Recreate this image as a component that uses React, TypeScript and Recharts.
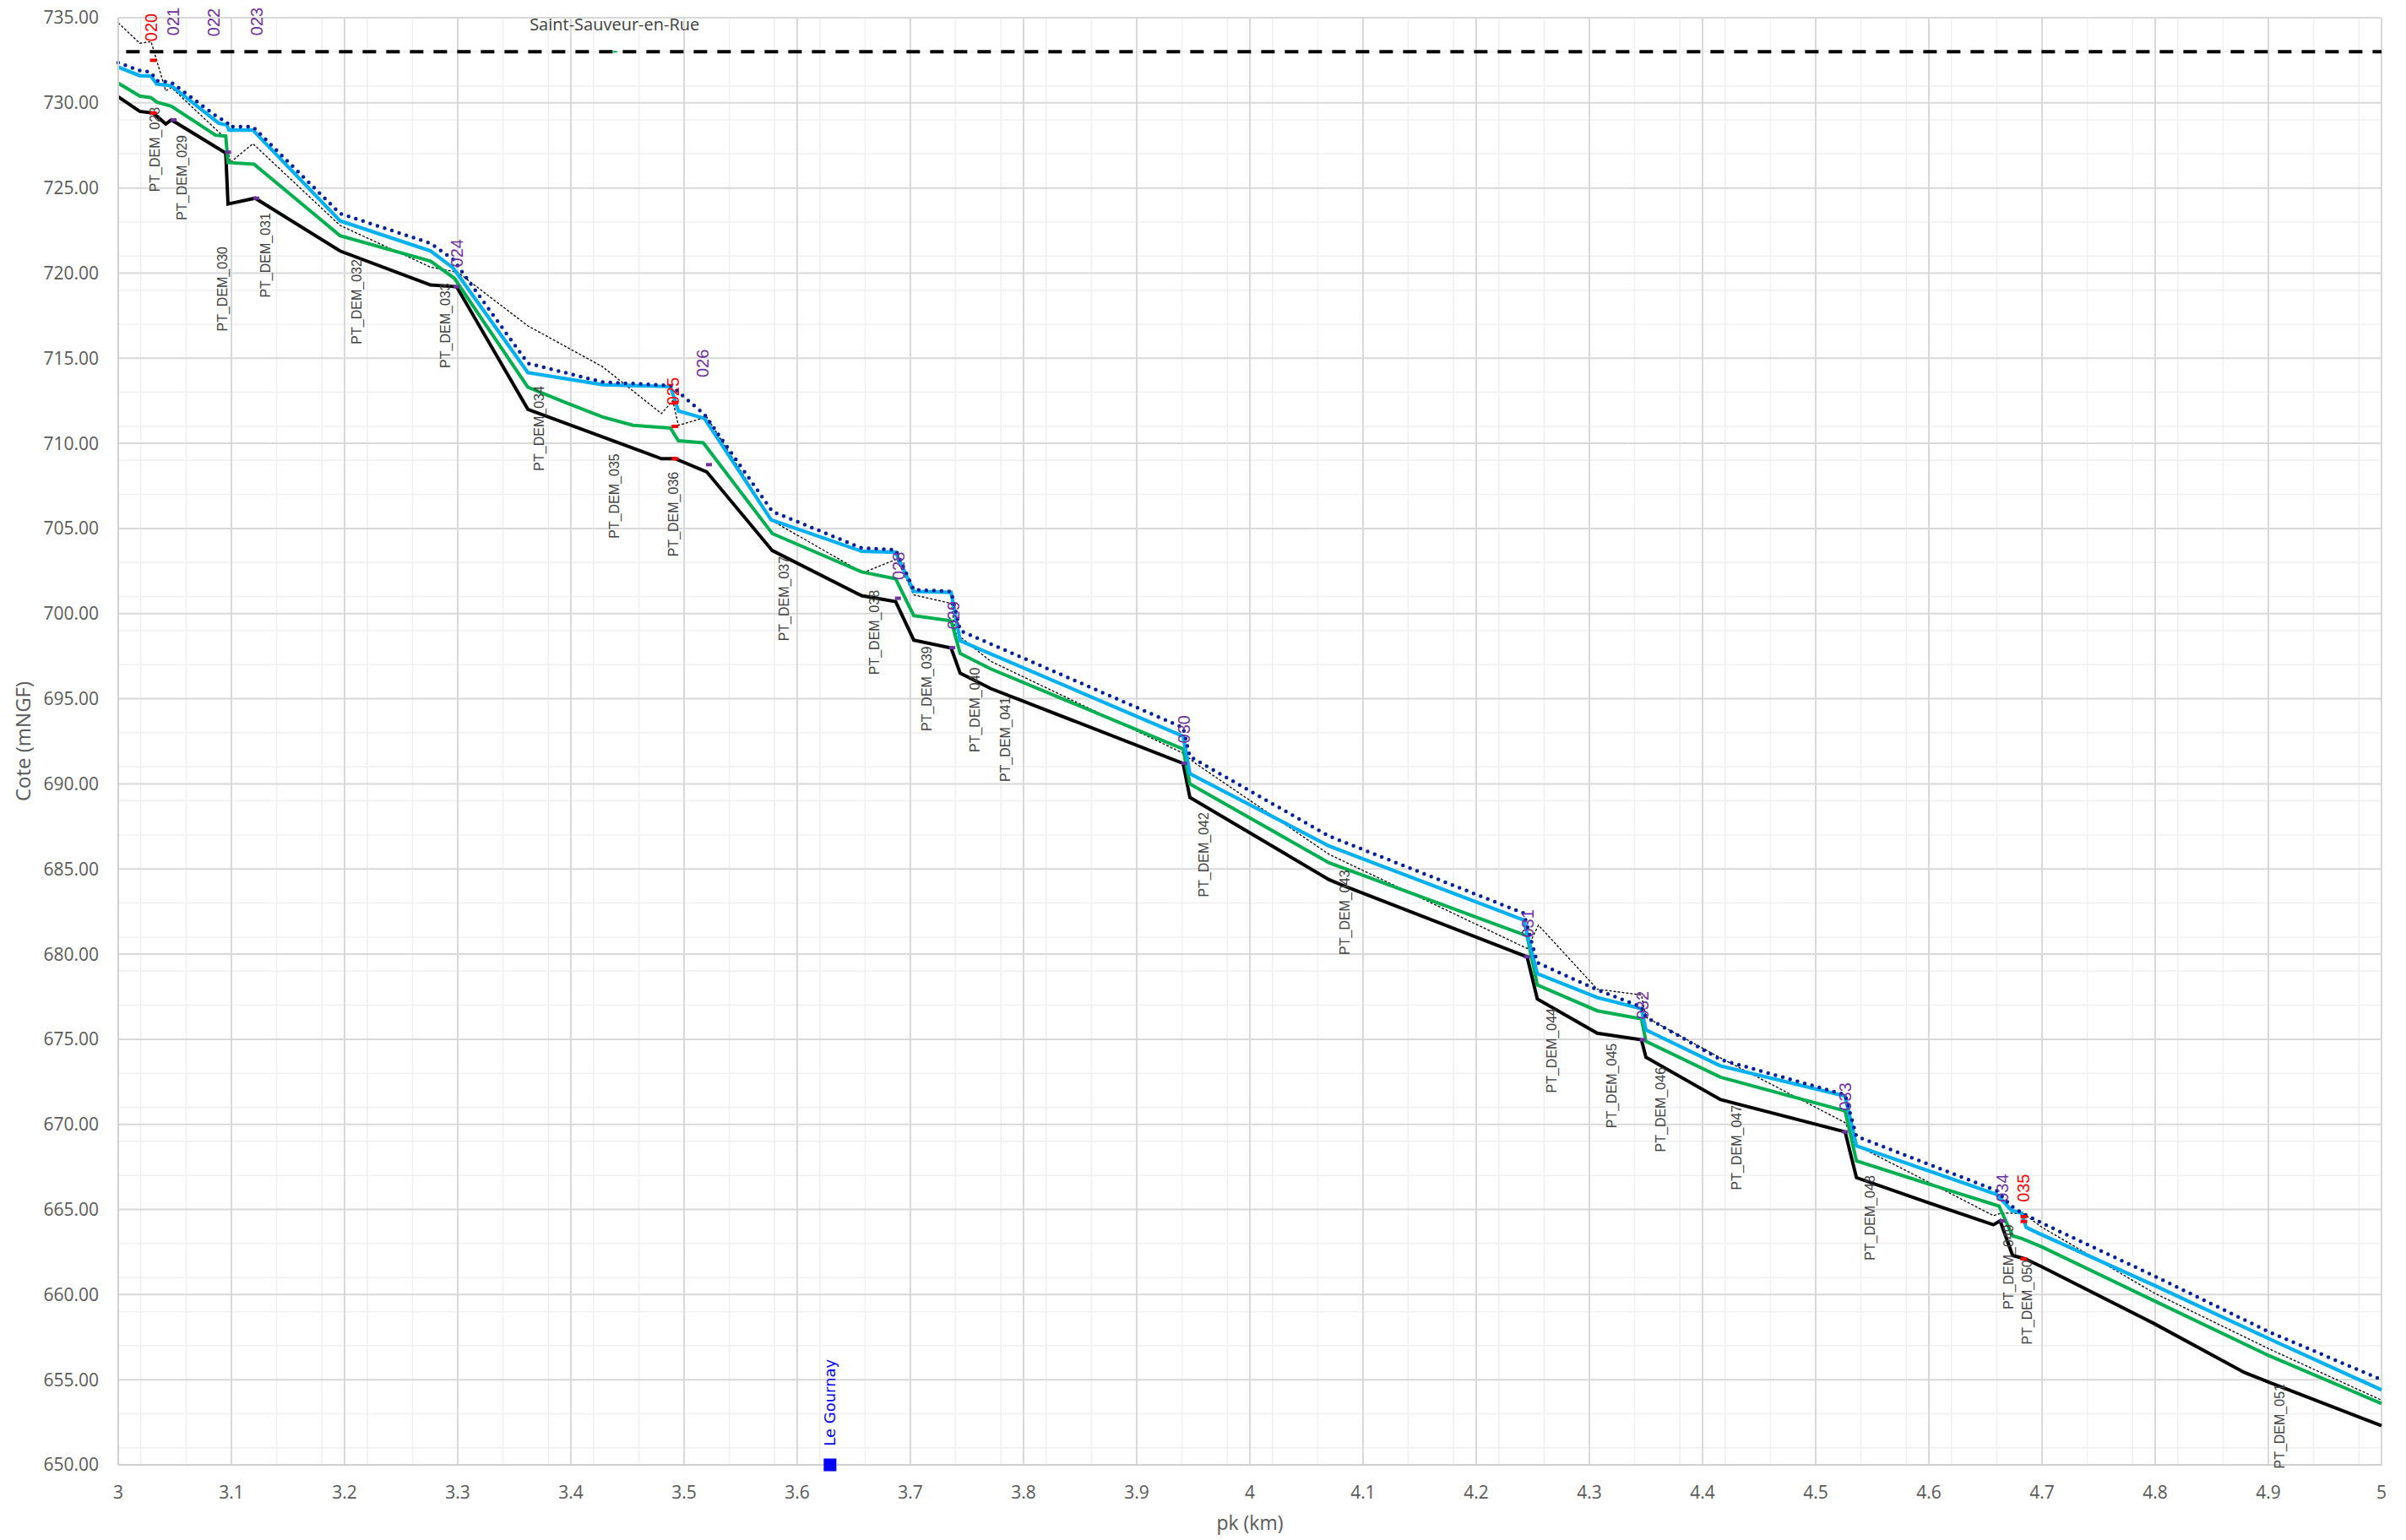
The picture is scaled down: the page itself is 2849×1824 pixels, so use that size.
import { ComposedChart, Line, Scatter, XAxis, YAxis, CartesianGrid, Label } from "recharts"

const W = 2849
const H = 1824

// axes
const pkTicks = [3, 3.1, 3.2, 3.3, 3.4, 3.5, 3.6, 3.7, 3.8, 3.9, 4, 4.1, 4.2, 4.3, 4.4, 4.5, 4.6, 4.7, 4.8, 4.9, 5]
const coteTicks = [650, 655, 660, 665, 670, 675, 680, 685, 690, 695, 700, 705, 710, 715, 720, 725, 730, 735]
const minorPk = Array.from({ length: 101 }, (_, i) => +(3 + i * 0.02).toFixed(2))
const minorCote = Array.from({ length: 86 }, (_, i) => 650 + i)

// profils [pk, cote]
const fond: [number, number][] = [
  [3.0, 730.36], [3.019, 729.5], [3.031, 729.4], [3.042, 728.76], [3.047, 729.0], [3.095, 727.05],
  [3.097, 724.06], [3.121, 724.4], [3.196, 721.3], [3.276, 719.3], [3.299, 719.2], [3.362, 712.0],
  [3.48, 709.1], [3.492, 709.1], [3.52, 708.33], [3.578, 703.7], [3.657, 701.05], [3.687, 700.7],
  [3.703, 698.44], [3.736, 697.98], [3.744, 696.5], [3.771, 695.6], [3.941, 691.2], [3.947, 689.2],
  [4.07, 684.37], [4.082, 684.04], [4.245, 679.84], [4.254, 677.36], [4.307, 675.35], [4.346, 674.97],
  [4.35, 673.94], [4.416, 671.45], [4.526, 669.56], [4.536, 666.87], [4.595, 665.5], [4.657, 664.1],
  [4.663, 664.33], [4.674, 662.3], [4.685, 662.1], [4.7, 661.63], [4.799, 658.3], [4.879, 655.42],
  [4.901, 654.84], [5.0, 652.3],
]

const ligneVerte: [number, number][] = [
  [3.0, 731.16], [3.019, 730.4], [3.029, 730.3], [3.034, 730.05], [3.047, 729.8], [3.086, 728.1],
  [3.095, 728.05], [3.097, 726.5], [3.12, 726.4], [3.196, 722.2], [3.276, 720.7], [3.297, 719.7],
  [3.362, 713.3], [3.395, 712.4], [3.428, 711.55], [3.455, 711.06], [3.488, 710.9], [3.495, 710.15],
  [3.517, 710.03], [3.578, 704.7], [3.657, 702.45], [3.687, 702.04], [3.703, 699.88], [3.736, 699.58],
  [3.744, 697.66], [3.771, 696.75], [3.941, 692.04], [3.947, 690.0], [4.07, 685.36], [4.245, 681.07],
  [4.254, 678.19], [4.307, 676.67], [4.346, 676.2], [4.35, 674.88], [4.416, 672.77], [4.526, 670.79],
  [4.536, 667.86], [4.595, 666.6], [4.662, 665.2], [4.674, 663.45], [4.682, 663.3], [4.7, 662.8],
  [4.799, 659.64], [4.901, 656.4], [5.0, 653.6],
]

const ligneBleue: [number, number][] = [
  [3.0, 732.1], [3.019, 731.6], [3.029, 731.57], [3.034, 731.1], [3.047, 731.0], [3.089, 728.8],
  [3.096, 728.7], [3.098, 728.4], [3.119, 728.4], [3.196, 723.07], [3.276, 721.3], [3.296, 720.3],
  [3.362, 714.16], [3.428, 713.45], [3.488, 713.33], [3.495, 711.9], [3.518, 711.47], [3.577, 705.5],
  [3.657, 703.66], [3.687, 703.6], [3.703, 701.3], [3.736, 701.25], [3.744, 698.4], [3.941, 692.8],
  [3.947, 690.6], [4.07, 686.35], [4.242, 682.0], [4.254, 678.85], [4.307, 677.45], [4.346, 676.79],
  [4.35, 675.55], [4.416, 673.43], [4.526, 671.66], [4.536, 668.74], [4.66, 665.88], [4.673, 664.95],
  [4.682, 664.78], [4.686, 663.95], [4.697, 663.6], [4.799, 660.55], [4.901, 657.4], [5.0, 654.4],
]

const lignePointillee: [number, number][] = [
  [3.0, 732.36], [3.019, 731.9], [3.029, 731.8], [3.034, 731.3], [3.047, 731.2], [3.089, 729.1],
  [3.096, 728.9], [3.098, 728.6], [3.119, 728.6], [3.196, 723.5], [3.276, 721.75], [3.296, 720.8],
  [3.362, 714.7], [3.428, 713.6], [3.488, 713.4], [3.497, 712.9], [3.518, 711.7], [3.578, 706.0],
  [3.657, 703.85], [3.687, 703.75], [3.703, 701.4], [3.736, 701.3], [3.744, 699.0], [3.941, 693.3],
  [3.947, 691.6], [4.07, 686.93], [4.242, 682.4], [4.254, 679.5], [4.307, 677.9], [4.346, 676.9],
  [4.35, 676.3], [4.416, 673.8], [4.526, 671.74], [4.536, 669.3], [4.66, 666.1], [4.673, 665.2],
  [4.682, 664.8], [4.7, 664.2], [4.799, 661.1], [4.901, 657.8], [5.0, 655.0],
]

const terrain: [number, number][] = [
  [3.0, 734.7], [3.019, 733.5], [3.029, 733.6], [3.042, 730.7], [3.047, 730.9], [3.095, 727.9],
  [3.099, 726.5], [3.119, 727.6], [3.196, 722.8], [3.276, 720.35], [3.3, 720.05], [3.362, 716.9],
  [3.428, 714.5], [3.48, 711.75], [3.49, 712.5], [3.495, 711.06], [3.52, 711.55], [3.578, 705.45],
  [3.658, 702.4], [3.688, 703.2], [3.703, 701.1], [3.736, 700.6], [3.74, 698.85], [3.771, 697.2],
  [3.941, 691.8], [3.952, 691.2], [4.07, 685.86], [4.245, 680.33], [4.255, 681.7], [4.307, 677.94],
  [4.346, 677.6], [4.35, 676.29], [4.416, 673.9], [4.526, 670.1], [4.536, 668.77], [4.595, 666.77],
  [4.657, 664.64], [4.665, 664.8], [4.684, 664.75], [4.7, 663.95], [4.799, 660.1], [4.901, 656.8],
  [5.0, 653.8],
]

const limiteCommune: [number, number][] = [[3.007, 733], [5.0, 733]]

// ouvrages: points [pk, cote]
const pointsRouges: [number, number][] = [
  [3.031, 732.5], [3.031, 729.4], [3.492, 712.4], [3.492, 711.0], [3.492, 709.1],
  [4.684, 664.58], [4.684, 664.3], [4.684, 662.1],
]
const pointsViolets: [number, number][] = [
  [3.049, 729.0], [3.097, 727.1], [3.122, 724.4], [3.299, 719.2], [3.522, 708.75], [3.689, 700.9],
  [3.737, 698.0], [3.942, 691.2], [4.245, 679.84], [4.347, 674.97], [4.526, 669.56], [4.665, 664.33],
]

// étiquettes ouvrages [pk, cote du pied de l'étiquette, nom]
const etiquettesRouges: [number, number, string][] = [
  [3.029, 733.6, "020"], [3.4903, 712.22, "025"], [4.6833, 665.43, "035"],
]
const etiquettesViolettes: [number, number, string][] = [
  [3.0485, 733.95, "021"], [3.084, 733.9, "022"], [3.122, 733.95, "023"], [3.2993, 720.35, "024"],
  [3.516, 713.87, "026"], [3.6894, 701.97, "028"], [3.7376, 699.07, "029"], [3.9418, 692.38, "030"],
  [4.2454, 680.97, "031"], [4.347, 676.17, "032"], [4.5263, 670.8, "033"], [4.6648, 665.43, "034"],
]

// points DEM [pk, cote du haut de l'étiquette, nom]
const pointsDem: [number, number, string][] = [
  [3.032, 729.75, "PT_DEM_028"], [3.056, 728.1, "PT_DEM_029"], [3.0921, 721.56, "PT_DEM_030"],
  [3.1303, 723.54, "PT_DEM_031"], [3.2103, 720.81, "PT_DEM_032"], [3.2887, 719.41, "PT_DEM_033"],
  [3.3719, 713.37, "PT_DEM_034"], [3.4386, 709.4, "PT_DEM_035"], [3.4907, 708.33, "PT_DEM_036"],
  [3.5885, 703.37, "PT_DEM_037"], [3.6678, 701.39, "PT_DEM_038"], [3.7144, 698.08, "PT_DEM_039"],
  [3.7568, 696.84, "PT_DEM_040"], [3.7836, 695.1, "PT_DEM_041"], [3.959, 688.33, "PT_DEM_042"],
  [4.0839, 684.94, "PT_DEM_043"], [4.2664, 676.83, "PT_DEM_044"], [4.3198, 674.76, "PT_DEM_045"],
  [4.363, 673.36, "PT_DEM_046"], [4.4297, 671.13, "PT_DEM_047"], [4.548, 667.0, "PT_DEM_048"],
  [4.67, 664.12, "PT_DEM_049"], [4.6864, 662.05, "PT_DEM_050"], [4.91, 654.76, "PT_DEM_051"],
]

// lieux
const saintSauveur = { pk: 3.4386, z: 733, labelZ: 734.59, name: "Saint-Sauveur-en-Rue" }
const leGournay = { pk: 3.629, z: 650, labelZ: 651.1, name: "Le Gournay" }

const toPts = (a: [number, number][]) => a.map(([pk, z]) => ({ pk, z }))
const toLabels = (a: [number, number, string][]) => a.map(([pk, z, name]) => ({ pk, z, name }))

const TICK = { fontFamily: "Open Sans", fontSize: 21, fill: "#595959" }

function rotatedText(color: string, size: number, anchor: "start" | "end", family: string) {
  return (p: any) => {
    const { cx, cy, payload } = p
    return (
      <text
        x={cx}
        y={cy}
        dy={size * 0.36}
        transform={`rotate(-90 ${cx} ${cy})`}
        textAnchor={anchor}
        fill={color}
        fontSize={size}
        fontFamily={family}
      >
        {payload.name}
      </text>
    )
  }
}

function rectMarker(color: string, w: number, h: number) {
  return (p: any) => <rect x={p.cx - w / 2} y={p.cy - h / 2} width={w} height={h} fill={color} />
}

export default function App() {
  return (
    <div style={{ width: W, height: H, background: "#fff" }}>
      <style>{"body{margin:0}"}</style>
      <ComposedChart width={W} height={H} margin={{ top: 21, right: 29, bottom: 0, left: 0 }}>
        <CartesianGrid verticalValues={minorPk} horizontalValues={minorCote} stroke="#F0F0F0" strokeWidth={1.5} />
        <CartesianGrid verticalValues={pkTicks} horizontalValues={coteTicks} stroke="#D9D9D9" strokeWidth={2} />
        <XAxis
          type="number"
          dataKey="pk"
          domain={[3, 5]}
          ticks={pkTicks}
          height={89}
          tickSize={0}
          tickMargin={25}
          tickLine={false}
          axisLine={{ stroke: "#D0D0D0", strokeWidth: 2 }}
          tick={TICK}
        >
          <Label
            content={(props: any) => {
              const vb = props.viewBox
              return (
                <text x={vb.x + vb.width / 2} y={1812} textAnchor="middle" fill="#595959" fontSize={23} fontFamily="Open Sans">
                  pk (km)
                </text>
              )
            }}
          />
        </XAxis>
        <YAxis
          type="number"
          domain={[650, 735]}
          ticks={coteTicks}
          width={140}
          tickSize={0}
          tickMargin={23}
          tickLine={false}
          axisLine={{ stroke: "#D0D0D0", strokeWidth: 2 }}
          tick={TICK}
          tickFormatter={(v: number) => v.toFixed(2)}
        >
          <Label
            content={(props: any) => {
              const vb = props.viewBox
              const cy = vb.y + vb.height / 2
              return (
                <text x={28} y={cy} dy={8} transform={`rotate(-90 28 ${cy})`} textAnchor="middle" fill="#595959" fontSize={24} fontFamily="Open Sans">
                  Cote (mNGF)
                </text>
              )
            }}
          />
        </YAxis>

        <Scatter data={toLabels(pointsDem)} dataKey="z" shape={rotatedText("#404040", 16, "end", "Liberation Sans")} isAnimationActive={false} />

        <Line data={toPts(terrain)} dataKey="z" type="linear" stroke="#000" strokeWidth={1.3} strokeDasharray="3 2" dot={false} isAnimationActive={false} />
        <Line data={toPts(fond)} dataKey="z" type="linear" stroke="#000" strokeWidth={4} dot={false} isAnimationActive={false} />
        <Line data={toPts(ligneVerte)} dataKey="z" type="linear" stroke="#00B050" strokeWidth={4} dot={false} isAnimationActive={false} />
        <Line data={toPts(ligneBleue)} dataKey="z" type="linear" stroke="#00B0F0" strokeWidth={4.2} dot={false} isAnimationActive={false} />
        <Line data={toPts(lignePointillee)} dataKey="z" type="linear" stroke="#00209F" strokeWidth={4.5} strokeDasharray="0 9" strokeLinecap="round" dot={false} isAnimationActive={false} />

        <Scatter data={toPts(pointsRouges)} dataKey="z" shape={rectMarker("#FF0000", 8, 4)} isAnimationActive={false} />
        <Scatter data={toPts(pointsViolets)} dataKey="z" shape={rectMarker("#7030A0", 7, 4)} isAnimationActive={false} />

        <Line data={toPts(limiteCommune)} dataKey="z" type="linear" stroke="#000" strokeWidth={4} strokeDasharray="16 12" dot={false} isAnimationActive={false} />
        <Scatter data={[{ pk: saintSauveur.pk, z: saintSauveur.z }]} dataKey="z" shape={rectMarker("#00B050", 6, 2)} isAnimationActive={false} />
        <Scatter
          data={[{ pk: saintSauveur.pk, z: saintSauveur.labelZ, name: saintSauveur.name }]}
          dataKey="z"
          shape={(p: any) => (
            <text x={p.cx} y={p.cy} dy={7} textAnchor="middle" fill="#404040" fontSize={20} fontFamily="Open Sans">
              {p.payload.name}
            </text>
          )}
          isAnimationActive={false}
        />

        <Scatter data={toLabels(etiquettesRouges)} dataKey="z" shape={rotatedText("#FF0000", 20, "start", "Liberation Sans")} isAnimationActive={false} />
        <Scatter data={toLabels(etiquettesViolettes)} dataKey="z" shape={rotatedText("#7030A0", 20, "start", "Liberation Sans")} isAnimationActive={false} />

        <Scatter data={[{ pk: leGournay.pk, z: leGournay.z }]} dataKey="z" shape={rectMarker("#0000FF", 15, 15)} isAnimationActive={false} />
        <Scatter
          data={[{ pk: leGournay.pk, z: leGournay.labelZ, name: leGournay.name }]}
          dataKey="z"
          shape={rotatedText("#0000FF", 18, "start", "DejaVu Sans")}
          isAnimationActive={false}
        />
      </ComposedChart>
    </div>
  )
}
